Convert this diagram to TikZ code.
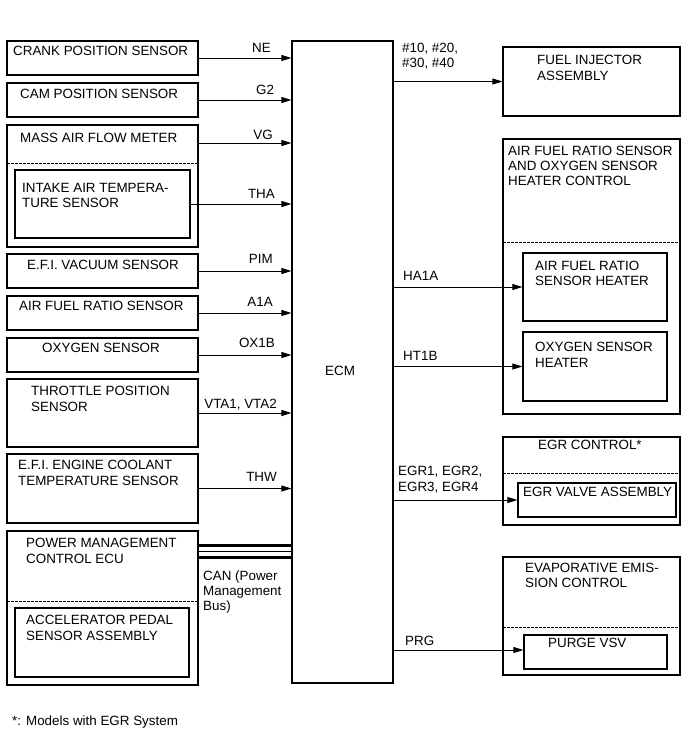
\documentclass[tikz,border=0pt]{standalone}
\usepackage{fontspec}
\setmainfont{Liberation Sans}
\usetikzlibrary{arrows.meta,fit}
\begin{document}
\begin{tikzpicture}[x=1pt,y=-1pt,
  box/.style={draw, line width=1.2pt, inner sep=0pt},
  txt/.style={inner sep=0pt, anchor=base west, font=\fontsize{13.4}{15}\selectfont},
  lbr/.style={inner sep=0pt, anchor=base east, font=\fontsize{13.4}{15}\selectfont},
  sig/.style={line width=0.8pt, -{Triangle[length=10pt,width=6pt]}},
  sepline/.style={line width=0.9pt, dash pattern=on 2.5pt off 1.5pt},
  thickbus/.style={line width=3pt},
  thinbus/.style={line width=1pt}]
\path[use as bounding box] (0,0) rectangle (689,756);

% ---------- ECM ----------
\node[box, fit={(292,41) (393,683)}] (ecm) {};
\node[txt] (tecm) at (325,375) {ECM};

% ---------- left inputs ----------
\node[box, fit={(7,41) (198,75)}] (crank) {};
\node[txt] (tcrank) at (13,55) {CRANK POSITION SENSOR};

\node[box, fit={(7,83) (198,117)}] (cam) {};
\node[txt] (tcam) at (20,98) {CAM POSITION SENSOR};

\node[box, fit={(7,125) (198,247)}] (maf) {};
\node[txt] (tmaf) at (20,142) {MASS AIR FLOW METER};
\coordinate (mafdl) at (7,163);
\coordinate (mafdr) at (198,163);
\draw[sepline] (mafdl) -- (mafdr);
\node[box, fit={(15,170) (190,238)}] (iat) {};
\node[txt] (tiat1) at (22,192) {INTAKE AIR TEMPERA-};
\node[txt] (tiat2) at (22,207) {TURE SENSOR};

\node[box, fit={(7,254) (198,288)}] (vac) {};
\node[txt] (tvac) at (27,269) {E.F.I. VACUUM SENSOR};

\node[box, fit={(7,296) (198,330)}] (afs) {};
\node[txt] (tafs) at (19,310) {AIR FUEL RATIO SENSOR};

\node[box, fit={(7,338) (198,372)}] (oxs) {};
\node[txt] (toxs) at (42,352) {OXYGEN SENSOR};

\node[box, fit={(7,379) (198,447)}] (tps) {};
\node[txt] (ttps1) at (31,395) {THROTTLE POSITION};
\node[txt] (ttps2) at (31,411) {SENSOR};

\node[box, fit={(7,454) (198,523)}] (ect) {};
\node[txt] (tect1) at (18,469) {E.F.I. ENGINE COOLANT};
\node[txt] (tect2) at (18,485) {TEMPERATURE SENSOR};

\node[box, fit={(7,531) (198,685)}] (pm) {};
\node[txt] (tpm1) at (26,547) {POWER MANAGEMENT};
\node[txt] (tpm2) at (26,563) {CONTROL ECU};
\coordinate (pmdl) at (7,601);
\coordinate (pmdr) at (198,601);
\draw[sepline] (pmdl) -- (pmdr);
\node[box, fit={(15,608) (189,677)}] (acc) {};
\node[txt] (tacc1) at (26,624) {ACCELERATOR PEDAL};
\node[txt] (tacc2) at (26,640) {SENSOR ASSEMBLY};

% ---------- input connectors ----------
\draw[sig] (crank.east) -- (crank.east -| ecm.west);
\node[txt] (lne) at (252,52) {NE};
\draw[sig] (cam.east) -- (cam.east -| ecm.west);
\node[txt] (lg2) at (256,94) {G2};
\coordinate (vgy) at (0,143);
\draw[sig] (maf.east |- vgy) -- (ecm.west |- vgy);
\node[lbr] (lvg) at (273,139) {VG};
\draw[sig] (iat.east) -- (iat.east -| ecm.west);
\node[lbr] (ltha) at (275,198) {THA};
\draw[sig] (vac.east) -- (vac.east -| ecm.west);
\node[lbr] (lpim) at (273,263) {PIM};
\draw[sig] (afs.east) -- (afs.east -| ecm.west);
\node[lbr] (la1a) at (273,306) {A1A};
\draw[sig] (oxs.east) -- (oxs.east -| ecm.west);
\node[lbr] (lox) at (275,347) {OX1B};
\draw[sig] (tps.east) -- (tps.east -| ecm.west);
\node[lbr] (lvta) at (277,408) {VTA1, VTA2};
\draw[sig] (ect.east) -- (ect.east -| ecm.west);
\node[lbr] (lthw) at (277,481) {THW};

% ---------- CAN bus ----------
\coordinate (can1) at (0,545);
\coordinate (can2) at (0,551);
\coordinate (can3) at (0,557.5);
\draw[thickbus] (pm.east |- can1) -- (ecm.west |- can1);
\draw[thinbus] (pm.east |- can2) -- (ecm.west |- can2);
\draw[thickbus] (pm.east |- can3) -- (ecm.west |- can3);
\node[txt] (lcan1) at (203,580) {CAN (Power};
\node[txt] (lcan2) at (203,595) {Management};
\node[txt] (lcan3) at (203,610) {Bus)};

% ---------- right outputs ----------
\node[box, fit={(503,47) (680,116)}] (fi) {};
\node[txt] (tfi1) at (537,64) {FUEL INJECTOR};
\node[txt] (tfi2) at (537,80) {ASSEMBLY};
\draw[sig] (ecm.east |- fi.west) -- (fi.west);
\node[txt] (lfi1) at (402,52) {\#10, \#20,};
\node[txt] (lfi2) at (402,67) {\#30, \#40};

\node[box, fit={(503,139) (680,414)}] (afc) {};
\node[txt] (tafc1) at (508,155) {AIR FUEL RATIO SENSOR};
\node[txt] (tafc2) at (508,170) {AND OXYGEN SENSOR};
\node[txt] (tafc3) at (508,185) {HEATER CONTROL};
\coordinate (afcdl) at (503,242);
\coordinate (afcdr) at (680,242);
\draw[sepline] (afcdl) -- (afcdr);
\node[box, fit={(523,253) (667,321)}] (afh) {};
\node[txt] (tafh1) at (535,270) {AIR FUEL RATIO};
\node[txt] (tafh2) at (535,285) {SENSOR HEATER};
\node[box, fit={(523,332) (667,401)}] (oxh) {};
\node[txt] (toxh1) at (535,351) {OXYGEN SENSOR};
\node[txt] (toxh2) at (535,367) {HEATER};
\draw[sig] (ecm.east |- afh.west) -- (afh.west);
\node[txt] (lha) at (403,280) {HA1A};
\draw[sig] (ecm.east |- oxh.west) -- (oxh.west);
\node[txt] (lht) at (403,360) {HT1B};

\node[box, fit={(503,437) (680,525)}] (egr) {};
\node[txt] (tegr) at (538,449) {EGR CONTROL*};
\coordinate (egrdl) at (503,473);
\coordinate (egrdr) at (680,473);
\draw[sepline] (egrdl) -- (egrdr);
\node[box, fit={(518,483) (676,517)}] (egrv) {};
\node[txt] (tegrv) at (523,496) {EGR VALVE ASSEMBLY};
\draw[sig] (ecm.east |- egrv.west) -- (egrv.west);
\node[txt] (legr1) at (398,475) {EGR1, EGR2,};
\node[txt] (legr2) at (398,491) {EGR3, EGR4};

\node[box, fit={(503,557) (680,675)}] (evap) {};
\node[txt] (tev1) at (525,572) {EVAPORATIVE EMIS-};
\node[txt] (tev2) at (525,587) {SION CONTROL};
\coordinate (evdl) at (503,627);
\coordinate (evdr) at (680,627);
\draw[sepline] (evdl) -- (evdr);
\node[box, fit={(524,635) (667,669)}] (purge) {};
\node[txt] (tpurge) at (548,647) {PURGE VSV};
\coordinate (prgy) at (0,650);
\draw[sig] (ecm.east |- prgy) -- (purge.west |- prgy);
\node[txt] (lprg) at (405,645) {PRG};

% ---------- footnote ----------
\node[txt] (note) at (12,725) {*: Models with EGR System};
\end{tikzpicture}
\end{document}
